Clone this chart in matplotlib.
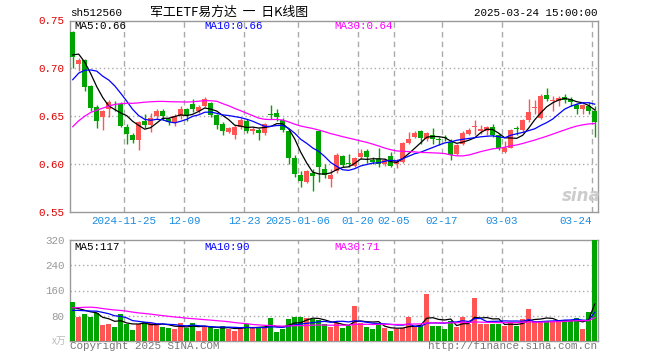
import numpy as np
import pandas as pd
import matplotlib
matplotlib.use('Agg')
import matplotlib.pyplot as plt

# sh512560 daily K, 2024-11-12 .. 2025-03-24 (88 sessions)
opens = [0.738, 0.704, 0.709, 0.681, 0.659, 0.649, 0.657, 0.662, 0.663, 0.639,
         0.630, 0.625, 0.645, 0.641, 0.650, 0.655, 0.647, 0.643, 0.650, 0.657,
         0.663, 0.655, 0.660, 0.664, 0.651, 0.642, 0.633, 0.630, 0.638, 0.645,
         0.634, 0.635, 0.632, 0.652, 0.653, 0.646, 0.634, 0.606, 0.588, 0.581,
         0.590, 0.634, 0.594, 0.584, 0.592, 0.608, 0.601, 0.598, 0.607, 0.613,
         0.604, 0.605, 0.600, 0.608, 0.600, 0.602, 0.622, 0.628, 0.634, 0.626,
         0.630, 0.626, 0.628, 0.623, 0.610, 0.621, 0.631, 0.638, 0.634, 0.634,
         0.638, 0.630, 0.612, 0.617, 0.637, 0.635, 0.646, 0.658, 0.648, 0.672,
         0.666, 0.666, 0.670, 0.668, 0.661, 0.657, 0.660, 0.655]
highs = [0.739, 0.711, 0.710, 0.682, 0.661, 0.656, 0.667, 0.666, 0.665, 0.642,
         0.632, 0.645, 0.652, 0.653, 0.657, 0.657, 0.649, 0.652, 0.660, 0.658,
         0.668, 0.661, 0.670, 0.665, 0.652, 0.644, 0.639, 0.641, 0.648, 0.647,
         0.639, 0.637, 0.643, 0.661, 0.657, 0.648, 0.635, 0.609, 0.592, 0.593,
         0.595, 0.635, 0.600, 0.594, 0.611, 0.609, 0.610, 0.607, 0.615, 0.615,
         0.607, 0.616, 0.606, 0.612, 0.605, 0.623, 0.633, 0.634, 0.635, 0.633,
         0.637, 0.628, 0.630, 0.626, 0.621, 0.634, 0.637, 0.646, 0.641, 0.640,
         0.642, 0.631, 0.624, 0.636, 0.640, 0.647, 0.668, 0.667, 0.673, 0.679,
         0.671, 0.671, 0.673, 0.670, 0.664, 0.663, 0.665, 0.660]
lows = [0.700, 0.697, 0.676, 0.655, 0.637, 0.635, 0.649, 0.655, 0.639, 0.621,
        0.622, 0.614, 0.637, 0.633, 0.647, 0.646, 0.641, 0.640, 0.647, 0.645,
        0.654, 0.653, 0.659, 0.649, 0.636, 0.630, 0.632, 0.626, 0.636, 0.632,
        0.631, 0.625, 0.630, 0.647, 0.645, 0.633, 0.600, 0.586, 0.576, 0.580,
        0.571, 0.581, 0.585, 0.576, 0.590, 0.597, 0.597, 0.597, 0.605, 0.601,
        0.600, 0.597, 0.598, 0.597, 0.596, 0.601, 0.621, 0.627, 0.621, 0.624,
        0.621, 0.620, 0.624, 0.604, 0.609, 0.620, 0.630, 0.630, 0.631, 0.630,
        0.628, 0.614, 0.611, 0.616, 0.630, 0.633, 0.644, 0.652, 0.647, 0.666,
        0.655, 0.660, 0.664, 0.660, 0.652, 0.652, 0.652, 0.628]
closes = [0.712, 0.709, 0.680, 0.658, 0.645, 0.655, 0.665, 0.661, 0.640, 0.631,
          0.625, 0.644, 0.641, 0.648, 0.655, 0.650, 0.644, 0.650, 0.657, 0.651,
          0.657, 0.659, 0.668, 0.651, 0.641, 0.634, 0.637, 0.639, 0.646, 0.634,
          0.636, 0.632, 0.642, 0.651, 0.649, 0.635, 0.606, 0.589, 0.582, 0.592,
          0.587, 0.597, 0.588, 0.588, 0.609, 0.599, 0.600, 0.606, 0.611, 0.607,
          0.602, 0.600, 0.604, 0.598, 0.603, 0.622, 0.626, 0.632, 0.627, 0.632,
          0.626, 0.625, 0.627, 0.609, 0.620, 0.632, 0.635, 0.640, 0.636, 0.638,
          0.630, 0.616, 0.616, 0.635, 0.636, 0.646, 0.654, 0.659, 0.671, 0.668,
          0.667, 0.669, 0.667, 0.665, 0.657, 0.661, 0.655, 0.644]
volumes = [123, 75, 85, 75, 87, 50, 53, 44, 84, 52,
           34, 52, 60, 58, 52, 44, 40, 37, 56, 42,
           58, 31, 45, 43, 37, 47, 36, 31, 45, 52,
           45, 39, 39, 72, 29, 38, 69, 75, 75, 72,
           68, 65, 52, 45, 57, 41, 48, 112, 57, 44,
           37, 53, 41, 31, 37, 39, 76, 46, 48, 149,
           48, 48, 37, 63, 45, 76, 52, 137, 52, 52,
           54, 54, 47, 57, 47, 69, 101, 64, 64, 64,
           62, 62, 66, 62, 72, 38, 93, 320]

# sessions before the window, only needed to warm up the moving averages
pre_close = [0.525, 0.535, 0.540, 0.575, 0.590, 0.600, 0.610, 0.615, 0.620, 0.625,
             0.630, 0.620, 0.635, 0.645, 0.648, 0.652, 0.655, 0.660, 0.655, 0.650,
             0.640, 0.650, 0.655, 0.657, 0.708, 0.705, 0.722, 0.718, 0.713]
pre_vol = [60, 55, 65, 130, 140, 120, 115, 125, 120, 125,
           130, 115, 120, 125, 110, 110, 100, 105, 110, 100,
           80, 95, 85, 90, 90, 95, 110, 100, 102]

tick_idx = [9, 19, 29, 38, 48, 54, 62, 72, 87]
tick_labels = ['2024-11-25', '12-09', '12-23', '2025-01-06', '01-20',
               '02-05', '02-17', '03-03', '03-24']
price_ma_text = ['MA5:0.66', 'MA10:0.66', 'MA30:0.64']
vol_ma_text = ['MA5:117', 'MA10:90', 'MA30:71']

red = '#ff5555'
green = '#00a400'
ma_colors = ['black', '#0000ff', '#ff00ff']
grid_c = '#aaaaaa'
mono = 'Liberation Mono'

W, H = 660, 360
fig = plt.figure(figsize=(W / 100, H / 100), dpi=100)
ax = fig.add_axes([70 / W, 1 - 211.5 / H, 527.7 / W, 191 / H])
axv = fig.add_axes([70 / W, 1 - 340.7 / H, 527.7 / W, 100.4 / H])

o = np.array(opens)
c = np.array(closes)
n = len(c)
x = np.arange(n)
colors = np.where(c >= o, red, green)

# candles
ax.vlines(x, lows, highs, colors=colors, lw=1, zorder=3)
body = np.maximum(np.abs(c - o), 0.0008)
ax.bar(x, body, bottom=np.minimum(o, c), width=0.75, color=colors, lw=0, zorder=3)

# moving averages
s_close = pd.Series(pre_close + closes)
s_vol = pd.Series(pre_vol + volumes)
k0 = len(pre_close)
for k, col in zip([5, 10, 30], ma_colors):
    ma = s_close.rolling(k).mean().iloc[k0:].values
    ax.plot(x, ma, color=col, lw=0.9, zorder=4)
    mav = s_vol.rolling(k).mean().iloc[k0:].values
    axv.plot(x, mav, color=col, lw=0.9, zorder=4)

axv.bar(x, volumes, width=0.8, color=colors, lw=0, zorder=3)

# axes styling
for a in (ax, axv):
    a.set_xlim(-0.45, n - 0.5)
    for sp in a.spines.values():
        sp.set_color('#999999')
        sp.set_linewidth(1)
    for i in tick_idx:
        a.axvline(i - 0.45, color=grid_c, lw=1, ls=(0, (4, 3)), zorder=1)
    a.tick_params(length=0)

ax.set_ylim(0.55, 0.75)
ax.set_yticks([0.55, 0.60, 0.65, 0.70, 0.75])
ax.set_yticklabels(['0.55', '0.60', '0.65', '0.70', '0.75'], color='#dd0000',
                   fontsize=7.8, family=mono)
for yv in [0.60, 0.65, 0.70]:
    ax.axhline(yv, color=grid_c, lw=1, ls=(0, (1, 2)), zorder=1)
ax.set_xticks([i - 0.45 for i in tick_idx])
ax.set_xticklabels(tick_labels, color='#1a8ce0', fontsize=7.8, family=mono)
ax.tick_params(axis='x', pad=3)
ax.tick_params(axis='y', pad=4)
ax.get_xticklabels()[-1].set_horizontalalignment('right')

axv.set_ylim(0, 320)
axv.set_yticks([80, 160, 240, 320])
axv.set_yticklabels(['80', '160', '240', '320'], color='#999999',
                    fontsize=7.8, family=mono)
axv.tick_params(axis='y', pad=4)
axv.set_xticks([])
for yv in [80, 160, 240]:
    axv.axhline(yv, color=grid_c, lw=1, ls=(0, (1, 2)), zorder=1)

# texts
fs = 7.8
fig.text(70 / W, 1 - 13 / H, 'sh512560', fontsize=fs, family=mono, va='center')
fig.text(229 / W, 1 - 12 / H, '军工ETF易方达  一  日K线图', fontsize=9.3,
         family=['Noto Sans CJK SC', 'DejaVu Sans'], ha='center', va='center')
fig.text(597 / W, 1 - 13 / H, '2025-03-24 15:00:00', fontsize=fs, family=mono,
         ha='right', va='center')
for xp, t, col in zip([74, 204, 334], price_ma_text, ma_colors):
    fig.text(xp / W, 1 - 26 / H, t, fontsize=fs, family=mono, color=col, va='center')
for xp, t, col in zip([74, 204, 334], vol_ma_text, ma_colors):
    fig.text(xp / W, 1 - 247 / H, t, fontsize=fs, family=mono, color=col, va='center')
fig.text(66 / W, 1 - 341 / H, 'x万', fontsize=7, color='#bbbbbb', ha='right',
         va='center', family=['Noto Sans CJK SC', 'DejaVu Sans'])
fig.text(70 / W, 1 - 346 / H, 'Copyright 2025 SINA.COM', fontsize=fs, family=mono,
         color='#777777', va='center')
fig.text(597 / W, 1 - 346 / H, 'http://finance.sina.com.cn', fontsize=fs, family=mono,
         color='#777777', ha='right', va='center')
fig.text(581 / W, 1 - 196 / H, 'sina', fontsize=12, color='#cccccc', weight='bold',
         style='italic', ha='center', va='center')

fig.savefig('out.png', dpi=100)
